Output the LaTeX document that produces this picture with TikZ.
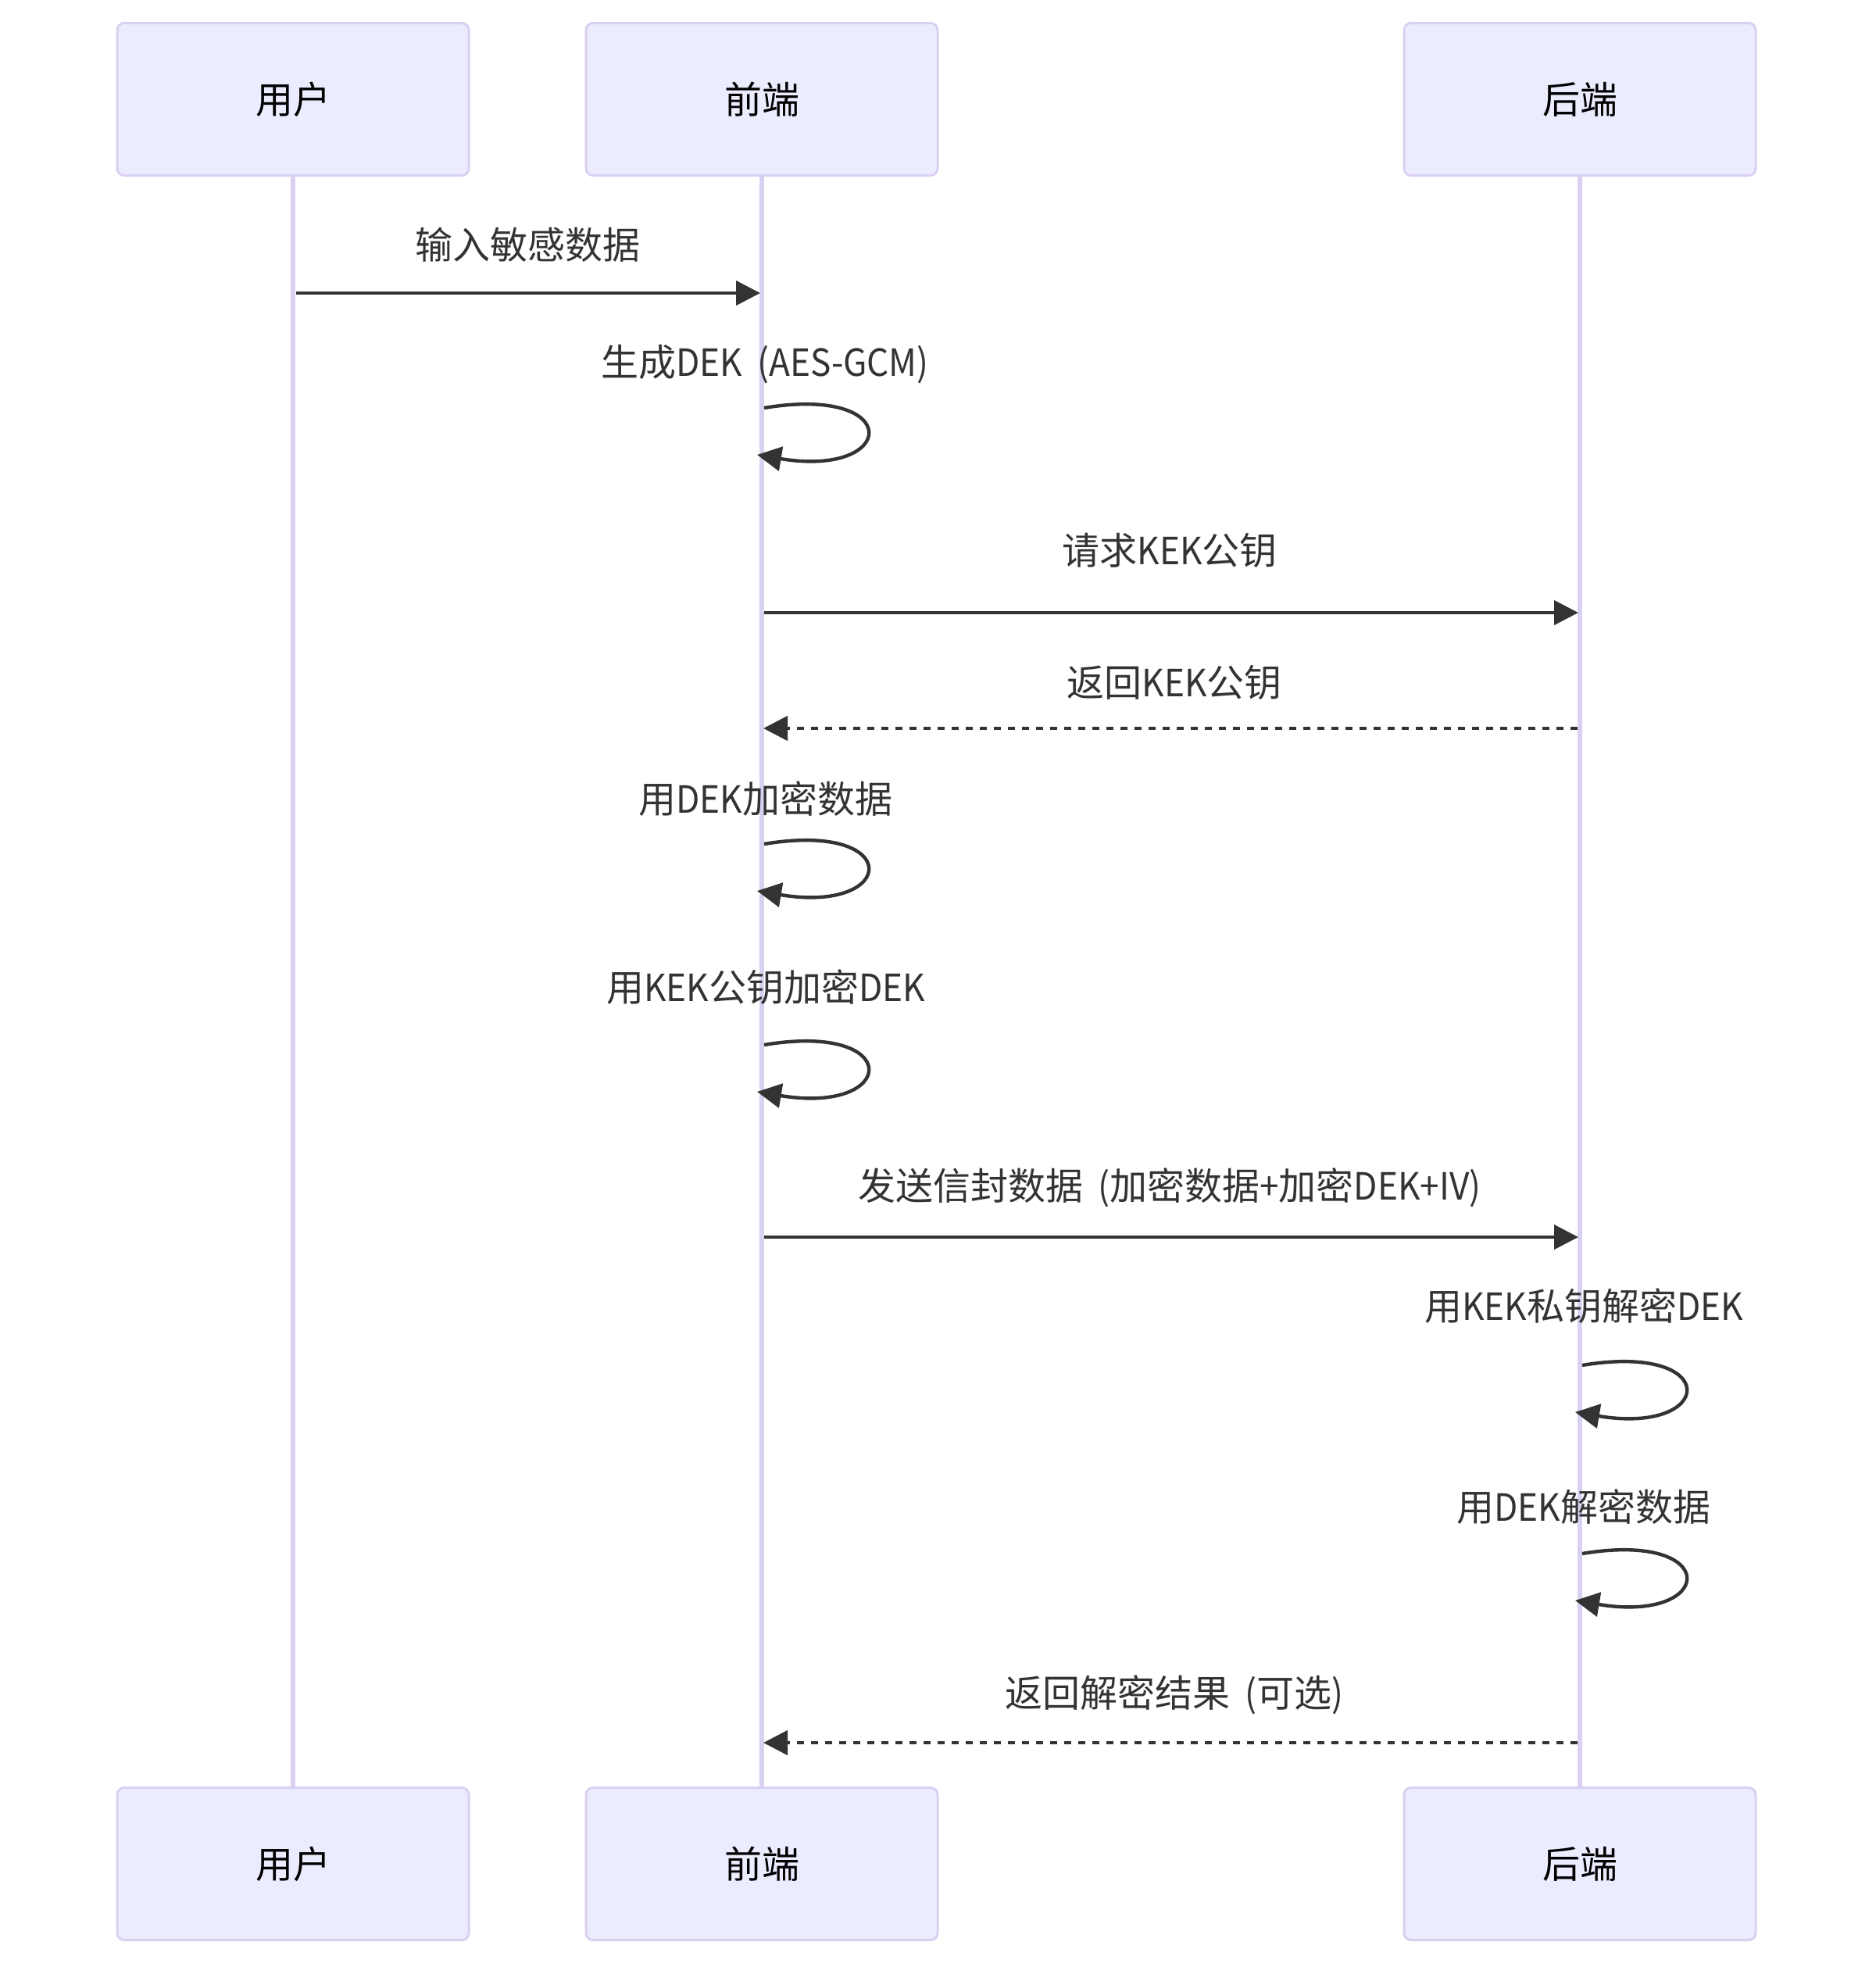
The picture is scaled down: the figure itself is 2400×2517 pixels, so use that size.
\documentclass[tikz,border=0pt]{standalone}
\usepackage{fontspec}
\setmainfont{Noto Sans CJK SC}
\newfontfamily\lat[FakeStretch=0.92]{Noto Sans CJK SC}
\newcommand{\la}[1]{{\lat #1}}
\newcommand{\wsp}{\hspace{0.4em}}
\usetikzlibrary{arrows.meta}
\definecolor{actfill}{HTML}{ECECFF}
\definecolor{actline}{HTML}{D9D0F2}
\definecolor{msgcol}{HTML}{333333}
\tikzset{
  actor/.style={draw=actline, fill=actfill, line width=1.5pt, rounded corners=4.5pt,
    minimum width=225pt, minimum height=97.5pt, inner sep=0pt, text=black,
    font=\fontsize{24pt}{28pt}\selectfont},
  lifeline/.style={draw=actline, line width=3pt},
  lbl/.style={text=msgcol, inner sep=0pt, font=\fontsize{24pt}{28pt}\selectfont},
  msg/.style={draw=msgcol, line width=2.2pt, -{Triangle[length=15.5pt, width=15.5pt]}},
  ret/.style={msg, dash pattern=on 4.5pt off 4.5pt},
}
\begin{document}
\begin{tikzpicture}[x=0.5pt, y=-0.5pt]
\useasboundingbox (0,0) rectangle (2400,2517);
% actors
\node[actor] (uT) at (375,127) {用户};
\node[actor] (fT) at (975,127) {前端};
\node[actor] (bT) at (2022,127) {后端};
\node[actor] (uB) at (375,2385) {用户};
\node[actor] (fB) at (975,2385) {前端};
\node[actor] (bB) at (2022,2385) {后端};
% lifelines
\draw[lifeline] (uT.south) -- (uB.north);
\draw[lifeline] (fT.south) -- (fB.north);
\draw[lifeline] (bT.south) -- (bB.north);
% labels
\node[lbl] (t1) at (675,313) {输入敏感数据};
\node[lbl] (t2) at (979,466) {生成\la{DEK}\wsp\la{(AES-GCM)}};
\node[lbl] (t3) at (1497,704) {请求\la{KEK}公钥};
\node[lbl] (t4) at (1503,873) {返回\la{KEK}公钥};
\node[lbl] (t5) at (980,1022) {用\la{DEK}加密数据};
\node[lbl] (t6) at (980,1263) {用\la{KEK}公钥加密\la{DEK}};
\node[lbl] (t7) at (1497,1520) {发送信封数据\wsp\la{(}加密数据\la{+}加密\la{DEK+IV)}};
\node[lbl] (t8) at (2027,1671) {用\la{KEK}私钥解密\la{DEK}};
\node[lbl] (t9) at (2027,1928) {用\la{DEK}解密数据};
\node[lbl] (t10) at (1503,2169) {返回解密结果\wsp\la{(}可选\la{)}};
% message anchor points
\coordinate (m1s) at (379,375);  \coordinate (m1e) at (973,375);
\coordinate (l1s) at (978,522);  \coordinate (l1e) at (969,582);
\coordinate (m3s) at (978,784);  \coordinate (m3e) at (2020,784);
\coordinate (m4s) at (2019,932); \coordinate (m4e) at (977,932);
\coordinate (l2s) at (978,1080); \coordinate (l2e) at (969,1140);
\coordinate (l3s) at (978,1337); \coordinate (l3e) at (969,1397);
\coordinate (m7s) at (978,1583); \coordinate (m7e) at (2020,1583);
\coordinate (l4s) at (2025,1747); \coordinate (l4e) at (2016,1807);
\coordinate (l5s) at (2025,1988); \coordinate (l5e) at (2016,2048);
\coordinate (m10s) at (2019,2230); \coordinate (m10e) at (977,2230);
% messages
\draw[msg] (m1s) -- (m1e);
\draw[msg] (l1s) .. controls +(180,-30) and +(180,30) .. (l1e);
\draw[msg] (m3s) -- (m3e);
\draw[ret] (m4s) -- (m4e);
\draw[msg] (l2s) .. controls +(180,-30) and +(180,30) .. (l2e);
\draw[msg] (l3s) .. controls +(180,-30) and +(180,30) .. (l3e);
\draw[msg] (m7s) -- (m7e);
\draw[msg] (l4s) .. controls +(180,-30) and +(180,30) .. (l4e);
\draw[msg] (l5s) .. controls +(180,-30) and +(180,30) .. (l5e);
\draw[ret] (m10s) -- (m10e);
\end{tikzpicture}
\end{document}
